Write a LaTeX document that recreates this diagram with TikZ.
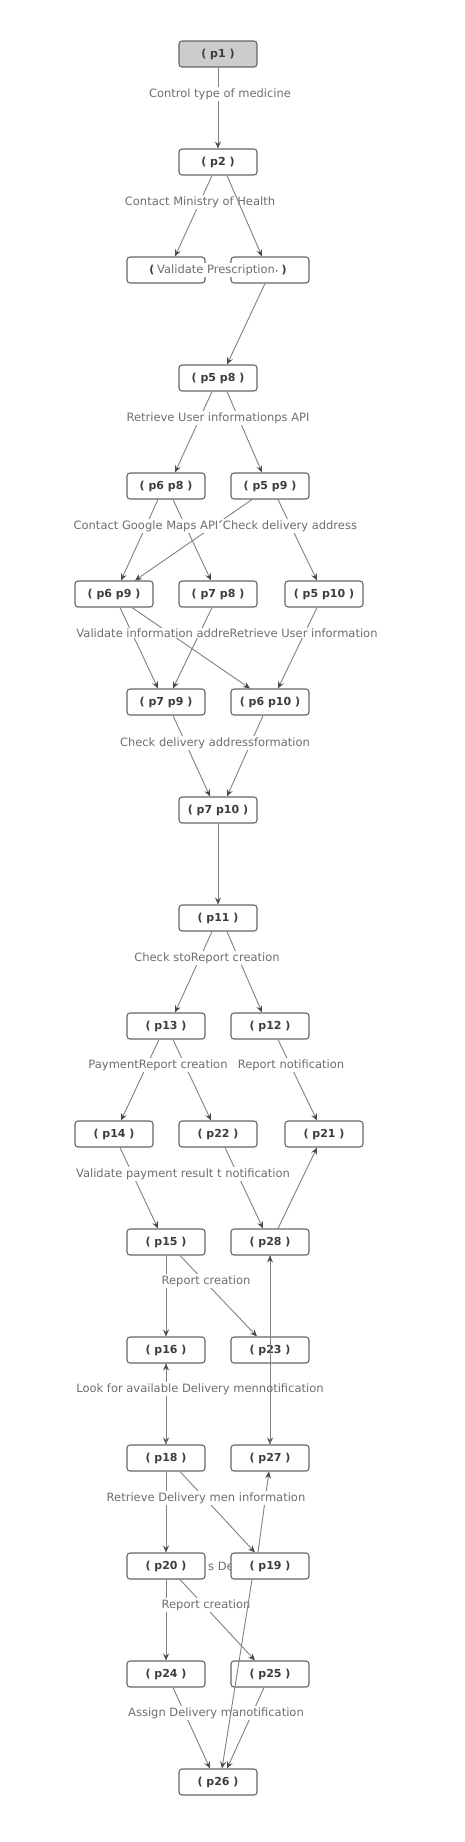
\documentclass[tikz,border=0pt]{standalone}
\usepackage{fontspec}
\setmainfont{DejaVu Sans}
\usetikzlibrary{arrows.meta}
\definecolor{edgegray}{HTML}{808080}
\definecolor{tipgray}{HTML}{4A4A4A}
\definecolor{boxgray}{HTML}{666666}
\definecolor{boxtext}{HTML}{3C3C3C}
\definecolor{lbltext}{HTML}{6E6E6E}
\definecolor{startgray}{HTML}{CCCCCC}
\tikzset{
  state/.style={draw=boxgray, line width=1.1pt, rounded corners=3pt, minimum width=78pt, minimum height=26pt,
    inner sep=0pt, fill=white, text=boxtext, font=\fontsize{11}{12}\selectfont\bfseries},
  startstate/.style={state, fill=startgray},
  trans/.style={draw=edgegray, line width=0.9pt, -{Stealth[length=7pt,width=6pt,inset=2.5pt,color=tipgray]}},
  lbl/.style={fill=white, text=lbltext, inner sep=1pt, font=\fontsize{11.5}{12}\selectfont}
}
\begin{document}
\begin{tikzpicture}[x=1pt,y=-1pt]
	\useasboundingbox (0,0) rectangle (464,1842);

	% hidden label behind p20 / p19
	\node[lbl] (lhid) at (221,1566) {s De};

	% states
	\node[startstate] (p1) at (218,54) {( p1 )};
	\node[state] (p2) at (218,162) {( p2 )};
	\node[state] (p3) at (166,270) {( p3 )};
	\node[state] (p4) at (270,270) {( p4 )};
	\node[state] (p5p8) at (218,378) {( p5 p8 )};
	\node[state] (p6p8) at (166,486) {( p6 p8 )};
	\node[state] (p5p9) at (270,486) {( p5 p9 )};
	\node[state] (p6p9) at (114,594) {( p6 p9 )};
	\node[state] (p7p8) at (218,594) {( p7 p8 )};
	\node[state] (p5p10) at (324,594) {( p5 p10 )};
	\node[state] (p7p9) at (166,702) {( p7 p9 )};
	\node[state] (p6p10) at (270,702) {( p6 p10 )};
	\node[state] (p7p10) at (218,810) {( p7 p10 )};
	\node[state] (p11) at (218,918) {( p11 )};
	\node[state] (p13) at (166,1026) {( p13 )};
	\node[state] (p12) at (270,1026) {( p12 )};
	\node[state] (p14) at (114,1134) {( p14 )};
	\node[state] (p22) at (218,1134) {( p22 )};
	\node[state] (p21) at (324,1134) {( p21 )};
	\node[state] (p15) at (166,1242) {( p15 )};
	\node[state] (p28) at (270,1242) {( p28 )};
	\node[state] (p16) at (166,1350) {( p16 )};
	\node[state] (p23) at (270,1350) {( p23 )};
	\node[state] (p18) at (166,1458) {( p18 )};
	\node[state] (p27) at (270,1458) {( p27 )};
	\node[state] (p20) at (166,1566) {( p20 )};
	\node[state] (p19) at (270,1566) {( p19 )};
	\node[state] (p24) at (166,1674) {( p24 )};
	\node[state] (p25) at (270,1674) {( p25 )};
	\node[state] (p26) at (218,1782) {( p26 )};

	% transitions
	\draw[trans] (p1.south) -- (p2.north);
	\draw[trans] ([xshift=-6pt]p2.south) -- ([xshift=9pt]p3.north);
	\draw[trans] ([xshift=-5pt]p4.south) -- ([xshift=9pt]p5p8.north);
	\draw[trans] ([xshift=-6pt]p5p8.south) -- ([xshift=9pt]p6p8.north);
	\draw[trans] ([xshift=9pt]p5p8.south) -- ([xshift=-8pt]p5p9.north);
	\draw[trans] ([xshift=-8pt]p6p8.south) -- ([xshift=7pt]p6p9.north);
	\draw[trans] ([xshift=7pt]p6p8.south) -- ([xshift=-7pt]p7p8.north);
	\draw[trans] ([xshift=-18pt]p5p9.south) -- ([xshift=21pt]p6p9.north);
	\draw[trans] ([xshift=8pt]p5p9.south) -- ([xshift=-7pt]p5p10.north);
	\draw[trans] ([xshift=6pt]p6p9.south) -- ([xshift=-8pt]p7p9.north);
	\draw[trans] ([xshift=18pt]p6p9.south) -- ([xshift=-20pt]p6p10.north);
	\draw[trans] ([xshift=-6pt]p7p8.south) -- ([xshift=7pt]p7p9.north);
	\draw[trans] ([xshift=-7pt]p5p10.south) -- ([xshift=8pt]p6p10.north);
	\draw[trans] ([xshift=7pt]p7p9.south) -- ([xshift=-8pt]p7p10.north);
	\draw[trans] ([xshift=-7pt]p6p10.south) -- ([xshift=9pt]p7p10.north);
	\draw[trans] (p7p10.south) -- (p11.north);
	\draw[trans] ([xshift=-6pt]p11.south) -- ([xshift=9pt]p13.north);
	\draw[trans] ([xshift=9pt]p11.south) -- ([xshift=-8pt]p12.north);
	\draw[trans] ([xshift=-7pt]p13.south) -- ([xshift=7pt]p14.north);
	\draw[trans] ([xshift=7pt]p13.south) -- ([xshift=-7pt]p22.north);
	\draw[trans] ([xshift=8pt]p12.south) -- ([xshift=-7pt]p21.north);
	\draw[trans] ([xshift=6pt]p14.south) -- ([xshift=-8pt]p15.north);
	\draw[trans] ([xshift=7pt]p22.south) -- ([xshift=-7pt]p28.north);
	\draw[trans] ([xshift=8pt]p28.north) -- ([xshift=-7pt]p21.south);
	\draw[trans] (p15.south) -- (p16.north);
	\draw[trans] ([xshift=14pt]p15.south) -- ([xshift=-13pt]p23.north);
	\draw[trans] (p16.south) -- (p18.north);
	\draw[trans] (p18.north) -- (p16.south);
	\draw[trans] (p18.south) -- (p20.north);
	\draw[trans] ([xshift=14pt]p18.south) -- ([xshift=-15pt]p19.north);
	\draw[trans] ([xshift=-12pt]p19.north) -- ([xshift=-1pt]p27.south);
	\draw[trans] (p20.south) -- (p24.north);
	\draw[trans] ([xshift=14pt]p20.south) -- ([xshift=-15pt]p25.north);
	\draw[trans] ([xshift=7pt]p24.south) -- ([xshift=-8pt]p26.north);
	\draw[trans] ([xshift=-6pt]p25.south) -- ([xshift=9pt]p26.north);

	% labels
	\node[lbl] (l1) at (220,94) {Control type of medicine};
	\node[lbl] (l2) at (200,202) {Contact Ministry of Health};
	\node[lbl] (l3) at (216,270) {Validate Prescription};
	\node[lbl] (l4) at (218,418) {Retrieve User informationps API};
	\node[lbl] (l5a) at (146,526) {Contact Google Maps API};
	\node[lbl] (l5b) at (290,526) {Check delivery address};
	\node[lbl] (l6) at (227,633) {Validate information addreRetrieve User information};
	\node[lbl] (l7) at (215,743) {Check delivery addressformation};
	\node[lbl] (l8) at (207,958) {Check stoReport creation};
	\node[lbl] (l9a) at (158,1065) {PaymentReport creation};
	\node[lbl] (l9b) at (291,1065) {Report notification};
	\node[lbl] (l10) at (183,1174) {Validate payment result t notification};
	\node[lbl] (l11) at (206,1281) {Report creation};
	\node[lbl] (l12) at (200,1389) {Look for available Delivery mennotification};
	\node[lbl] (l13) at (206,1498) {Retrieve Delivery men information};
	\node[lbl] (l15) at (206,1605) {Report creation};
	\node[lbl] (l16) at (216,1713) {Assign Delivery manotification};

	% transitions drawn over labels
	\draw[trans] ([xshift=9pt]p2.south) -- ([xshift=-8pt]p4.north);
	\draw[trans] (p28.south) -- (p27.north);
	\draw[trans] (p27.north) -- (p28.south);
	\draw[trans] ([xshift=-18pt]p19.south) -- ([xshift=4pt]p26.north);
\end{tikzpicture}
\end{document}
